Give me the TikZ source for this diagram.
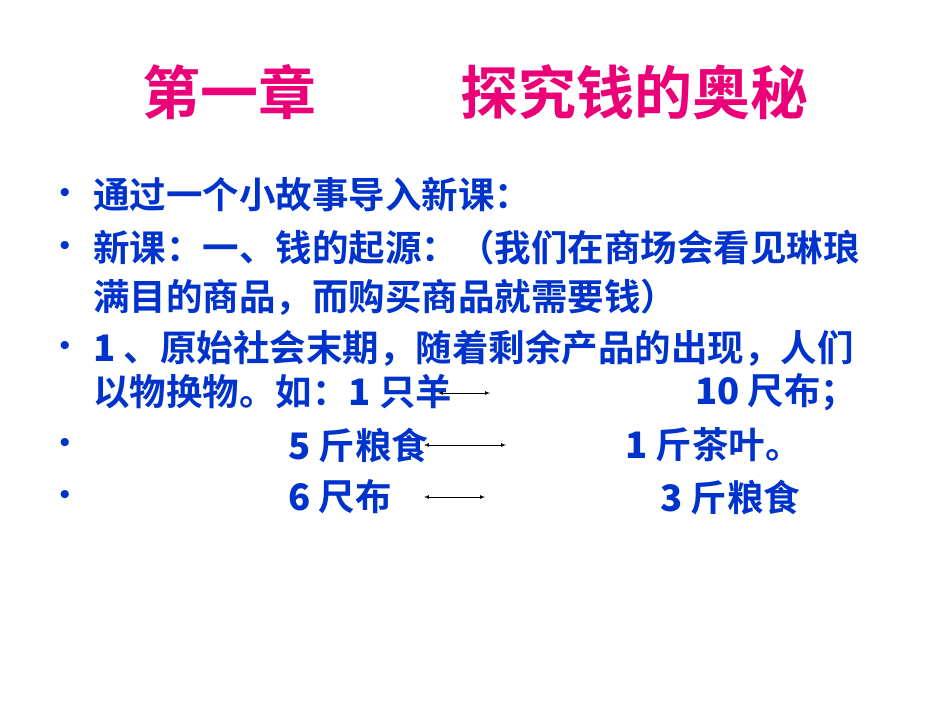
\documentclass[tikz,border=0pt]{standalone}
\usepackage{fontspec}
\setmainfont{Liberation Sans}
\newfontfamily\cjk{Noto Sans CJK SC}
\newfontfamily\cjkb{Noto Sans CJK SC Bold}
\definecolor{titlepink}{RGB}{236,0,120}
\definecolor{bodyblue}{RGB}{0,51,204}
\begin{document}
\begin{tikzpicture}[x=1pt,y=-1pt,
  title/.style={anchor=west,inner sep=0pt,text=titlepink,font=\cjkb\fontsize{58}{64}\selectfont},
  body/.style={anchor=west,inner sep=0pt,text=bodyblue,font=\cjkb\fontsize{36.5}{40}\selectfont},
  bul/.style={anchor=center,inner sep=0pt,text=bodyblue,font=\fontsize{30}{30}\selectfont},
  xarr/.style={<->,>=latex,black,line width=0.7pt}]
\useasboundingbox (0,0) rectangle (950,713);
\node[title] (t1) at (142,92) {第一章};
\node[title] (t2) at (460,92) {探究钱的奥秘};
\foreach \y/\n in {195/b1,248/b2,348/b3,445/b4,497/b5}{\node[bul] (\n) at (65,\y) {•};}
\node[body] (l1) at (93,195) {通过一个小故事导入新课：};
\node[body] (l2) at (93,248) {新课：一、钱的起源：（我们在商场会看见琳琅};
\node[body] (l3) at (93,297) {满目的商品，而购买商品就需要钱）};
\node[body] (l4) at (93,348) {{\bfseries 1} 、原始社会末期，随着剩余产品的出现，人们};
\node[body] (l5) at (93,392) {以物换物。如：{\bfseries 1} 只羊};
\node[body] (l5b) at (695,392) {{\bfseries 10} 尺布；};
\node[body] (l6) at (288,445) {{\bfseries 5} 斤粮食};
\node[body] (l6b) at (625,445) {{\bfseries 1} 斤茶叶。};
\node[body] (l7) at (288,497) {{\bfseries 6} 尺布};
\node[body] (l7b) at (660,497) {{\bfseries 3} 斤粮食};
\coordinate (a1) at (438,393); \coordinate (a2) at (490,393);
\coordinate (c1) at (424,445); \coordinate (c2) at (506,445);
\coordinate (d1) at (424,497); \coordinate (d2) at (485,497);
\draw[xarr] (a1) -- (a2);
\draw[xarr] (c1) -- (c2);
\draw[xarr] (d1) -- (d2);
\end{tikzpicture}
\end{document}
